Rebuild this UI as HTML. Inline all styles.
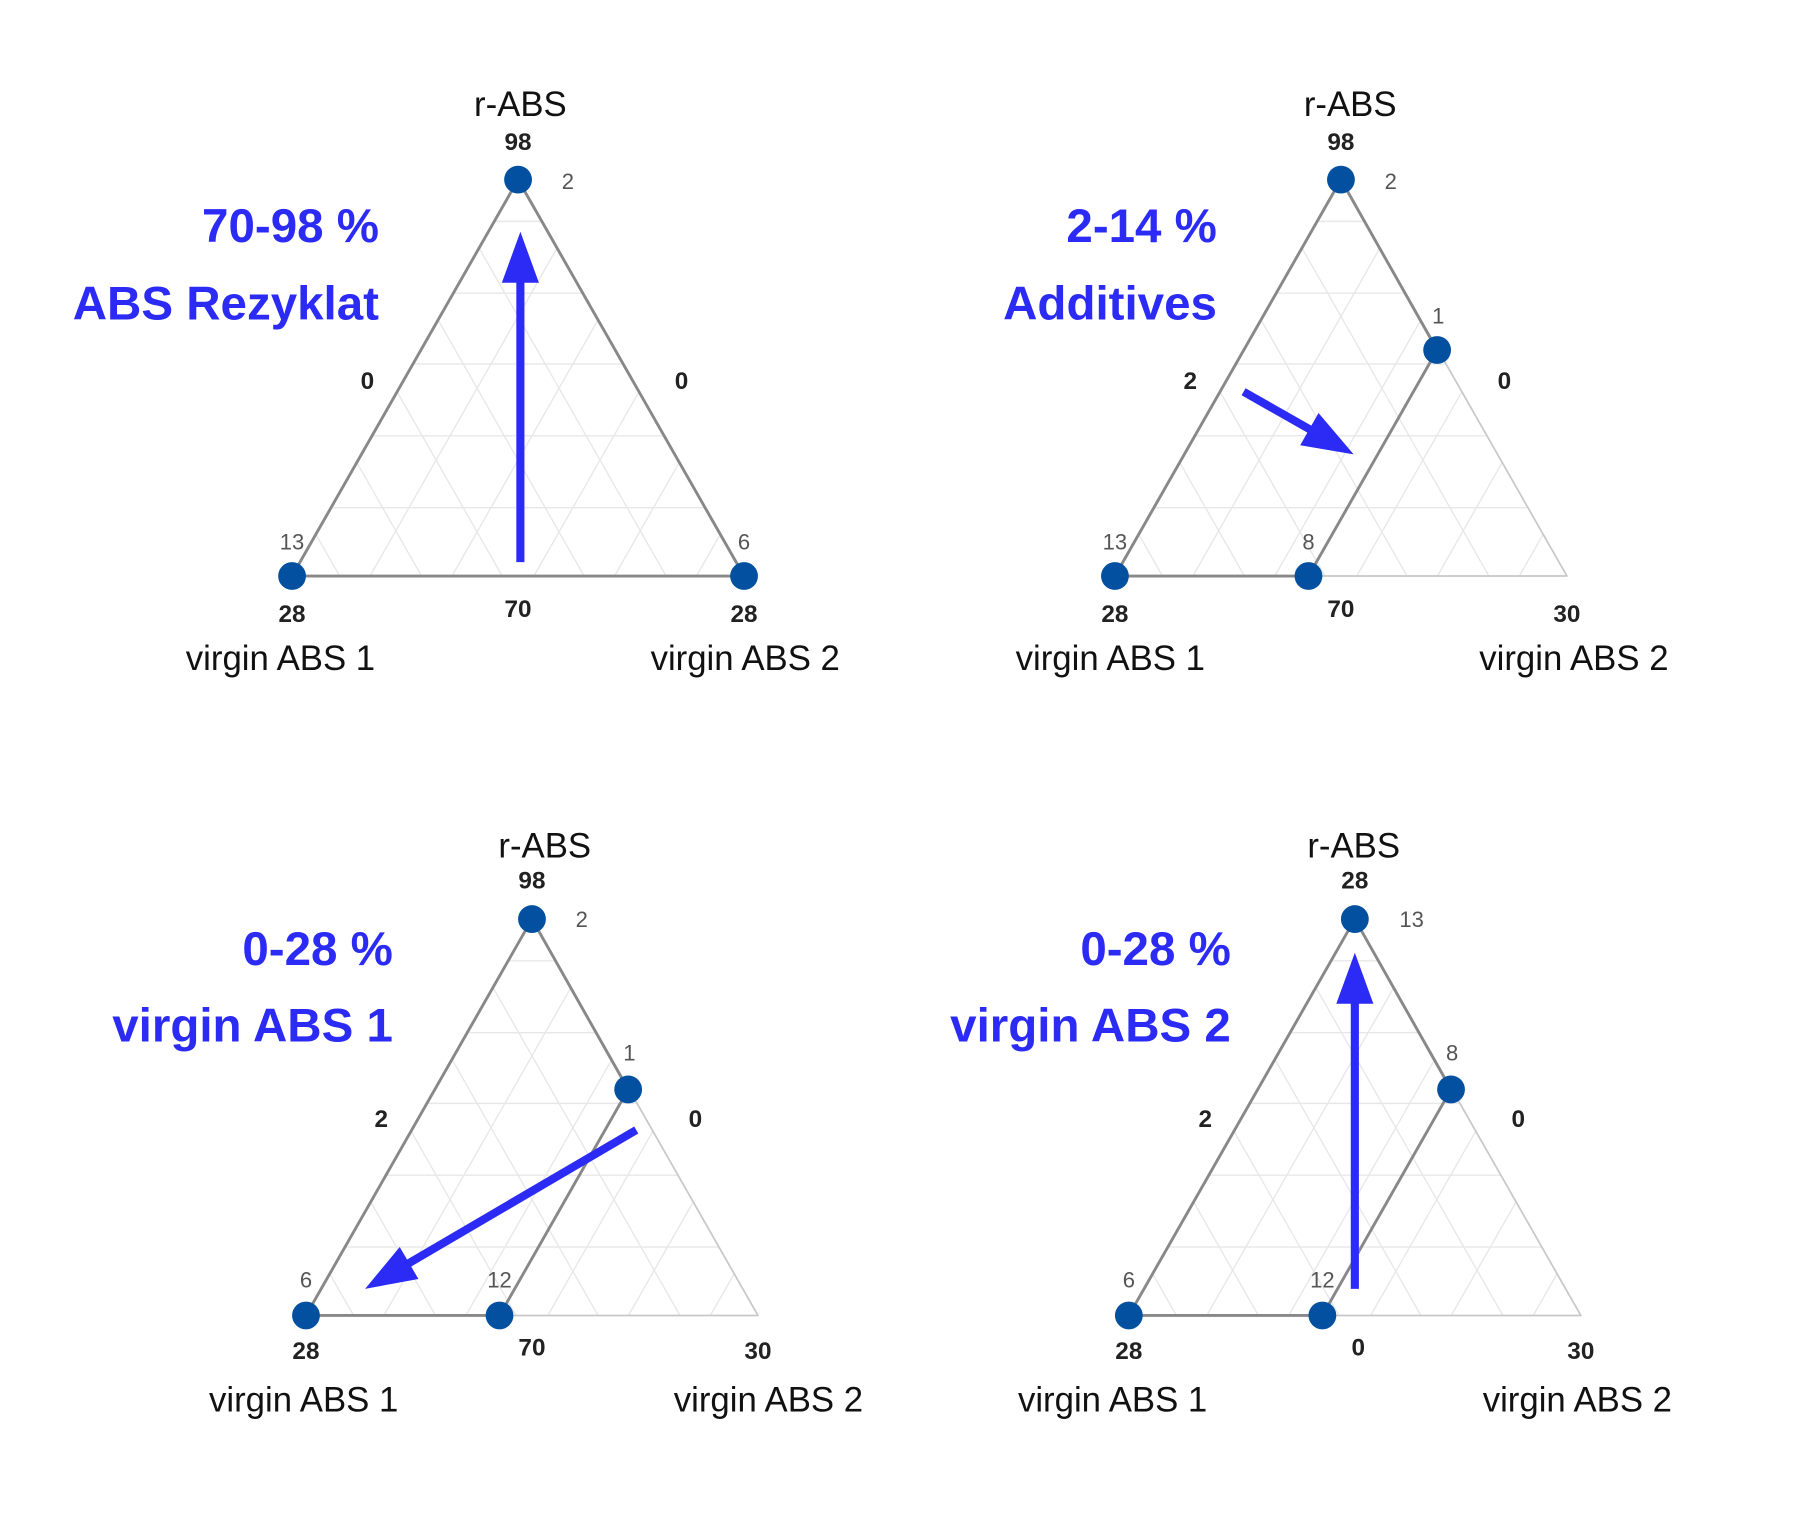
<!DOCTYPE html>
<html><head><meta charset="utf-8"><style>
html,body{margin:0;padding:0;background:#fff;}
svg{display:block;}
.lbl{font-family:"Liberation Sans",sans-serif;font-size:30px;fill:#111;text-anchor:middle;dominant-baseline:middle;}
.num{font-family:"Liberation Sans",sans-serif;font-size:21px;font-weight:bold;fill:#222;text-anchor:middle;dominant-baseline:middle;}
.sm{font-family:"Liberation Sans",sans-serif;font-size:19px;fill:#555;text-anchor:middle;dominant-baseline:middle;}
.ttl{font-family:"Liberation Sans",sans-serif;font-size:41px;font-weight:bold;fill:#2b2bf5;text-anchor:end;dominant-baseline:middle;}
</style></head><body>
<svg id="s" width="1808" height="1538" viewBox="0 0 1560 1327" preserveAspectRatio="none" xmlns="http://www.w3.org/2000/svg">
<g id="grid" stroke="#e8e8e8" stroke-width="1.2" fill="none"></g>
<g fill="none" stroke-linejoin="round">
<polygon points="962,497 1157,155 1352,497" stroke="#c8c8c8" stroke-width="1.5"/>
<polygon points="264,1135 459,793 654,1135" stroke="#c8c8c8" stroke-width="1.5"/>
<polygon points="974,1135 1169,793 1364,1135" stroke="#c8c8c8" stroke-width="1.5"/>
<polygon points="252,497 447,155 642,497" stroke="#888" stroke-width="2.5"/>
<polygon points="1157,155 1240,302 1129,497 962,497" stroke="#888" stroke-width="2.5"/>
<polygon points="459,793 542,940 431,1135 264,1135" stroke="#888" stroke-width="2.5"/>
<polygon points="1169,793 1252,940 1141,1135 974,1135" stroke="#888" stroke-width="2.5"/>
</g>
<g fill="#02509f">
<circle cx="447" cy="155" r="12"/><circle cx="252" cy="497" r="12"/><circle cx="642" cy="497" r="12"/>
<circle cx="1157" cy="155" r="12"/><circle cx="1240" cy="302" r="12"/><circle cx="1129" cy="497" r="12"/><circle cx="962" cy="497" r="12"/>
<circle cx="459" cy="793" r="12"/><circle cx="542" cy="940" r="12"/><circle cx="431" cy="1135" r="12"/><circle cx="264" cy="1135" r="12"/>
<circle cx="1169" cy="793" r="12"/><circle cx="1252" cy="940" r="12"/><circle cx="1141" cy="1135" r="12"/><circle cx="974" cy="1135" r="12"/>
</g>
<g id="arrows" fill="#2b2bf5" stroke="#2b2bf5"></g>
<!-- Panel 1 -->
<text class="lbl" x="449" y="92">r-ABS</text><text class="num" x="447" y="124">98</text>
<text class="sm" x="490" y="158">2</text><text class="num" x="317" y="330">0</text><text class="num" x="588" y="330">0</text>
<text class="sm" x="252" y="469">13</text><text class="sm" x="642" y="469">6</text>
<text class="num" x="252" y="531">28</text><text class="num" x="447" y="527">70</text><text class="num" x="642" y="531">28</text>
<text class="lbl" x="242" y="570">virgin ABS 1</text><text class="lbl" x="643" y="570">virgin ABS 2</text>
<text class="ttl" x="327" y="198">70-98 %</text><text class="ttl" x="327" y="265">ABS Rezyklat</text>
<!-- Panel 2 -->
<text class="lbl" x="1165" y="92">r-ABS</text><text class="num" x="1157" y="124">98</text>
<text class="sm" x="1200" y="158">2</text><text class="sm" x="1241" y="274">1</text>
<text class="num" x="1027" y="330">2</text><text class="num" x="1298" y="330">0</text>
<text class="sm" x="962" y="469">13</text><text class="sm" x="1129" y="469">8</text>
<text class="num" x="962" y="531">28</text><text class="num" x="1157" y="527">70</text><text class="num" x="1352" y="531">30</text>
<text class="lbl" x="958" y="570">virgin ABS 1</text><text class="lbl" x="1358" y="570">virgin ABS 2</text>
<text class="ttl" x="1050" y="198">2-14 %</text><text class="ttl" x="1050" y="265">Additives</text>
<!-- Panel 3 -->
<text class="lbl" x="470" y="732">r-ABS</text><text class="num" x="459" y="761">98</text>
<text class="sm" x="502" y="795">2</text><text class="sm" x="543" y="910">1</text>
<text class="num" x="329" y="967">2</text><text class="num" x="600" y="967">0</text>
<text class="sm" x="264" y="1106">6</text><text class="sm" x="431" y="1106">12</text>
<text class="num" x="264" y="1167">28</text><text class="num" x="459" y="1164">70</text><text class="num" x="654" y="1167">30</text>
<text class="lbl" x="262" y="1210">virgin ABS 1</text><text class="lbl" x="663" y="1210">virgin ABS 2</text>
<text class="ttl" x="339" y="822">0-28 %</text><text class="ttl" x="339" y="888">virgin ABS 1</text>
<!-- Panel 4 -->
<text class="lbl" x="1168" y="732">r-ABS</text><text class="num" x="1169" y="761">28</text>
<text class="sm" x="1218" y="795">13</text><text class="sm" x="1253" y="910">8</text>
<text class="num" x="1040" y="967">2</text><text class="num" x="1310" y="967">0</text>
<text class="sm" x="974" y="1106">6</text><text class="sm" x="1141" y="1106">12</text>
<text class="num" x="974" y="1167">28</text><text class="num" x="1172" y="1164">0</text><text class="num" x="1364" y="1167">30</text>
<text class="lbl" x="960" y="1210">virgin ABS 1</text><text class="lbl" x="1361" y="1210">virgin ABS 2</text>
<text class="ttl" x="1062" y="822">0-28 %</text><text class="ttl" x="1062" y="888">virgin ABS 2</text>
</svg>
<script>
var NS="http://www.w3.org/2000/svg";
var g=document.getElementById('grid');
var tris=[[447,155],[1157,155],[459,793],[1169,793]];
var ts=[59,121,183,244,306].map(function(d){return d/342;});
function ln(p,q,parent,attrs){var l=document.createElementNS(NS,'line');l.setAttribute('x1',p[0]);l.setAttribute('y1',p[1]);l.setAttribute('x2',q[0]);l.setAttribute('y2',q[1]);if(attrs)for(var k in attrs)l.setAttribute(k,attrs[k]);parent.appendChild(l);}
function mix(a,b,t){return [t*a[0]+(1-t)*b[0],t*a[1]+(1-t)*b[1]];}
tris.forEach(function(a){
 var V=[[a[0],a[1]],[a[0]-195,a[1]+342],[a[0]+195,a[1]+342]];
 for(var i=0;i<3;i++){var j=(i+1)%3,k=(i+2)%3;
  ts.forEach(function(t){ln(mix(V[i],V[j],t),mix(V[i],V[k],t),g);});}
});
var ar=document.getElementById('arrows');
function arrow(x1,y1,x2,y2){
 var dx=x2-x1,dy=y2-y1,L=Math.sqrt(dx*dx+dy*dy),ux=dx/L,uy=dy/L,hl=44,hw=16;
 var bx=x2-ux*hl,by=y2-uy*hl;
 ln([x1,y1],[bx+ux*2,by+uy*2],ar,{'stroke-width':7});
 var p=document.createElementNS(NS,'polygon');
 p.setAttribute('points',x2+','+y2+' '+(bx-uy*hw)+','+(by+ux*hw)+' '+(bx+uy*hw)+','+(by-ux*hw));
 p.setAttribute('stroke','none');ar.appendChild(p);
}
arrow(449,485,449,200);
arrow(1073,338,1168,392);
arrow(549,975,315,1112);
arrow(1169,1112,1169,822);
</script>
</body></html>
